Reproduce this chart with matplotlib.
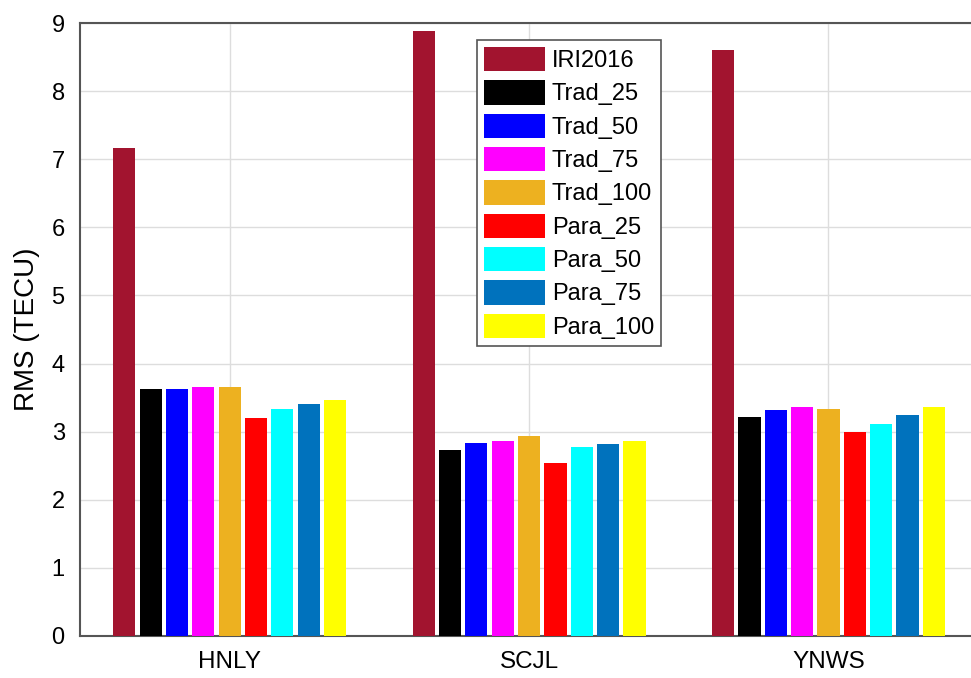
import numpy as np
import matplotlib.pyplot as plt

plt.rcParams['font.family'] = ['Liberation Sans', 'DejaVu Sans']

stations = ['HNLY', 'SCJL', 'YNWS']
models = ['IRI2016', 'Trad_25', 'Trad_50', 'Trad_75', 'Trad_100',
          'Para_25', 'Para_50', 'Para_75', 'Para_100']
colors = ['#A2142F', '#000000', '#0000FF', '#FF00FF', '#EDB120',
          '#FF0000', '#00FFFF', '#0072BD', '#FFFF00']

# RMS per model, one entry per station
rms = {
    'IRI2016':  [7.16, 8.88, 8.60],
    'Trad_25':  [3.62, 2.73, 3.22],
    'Trad_50':  [3.62, 2.84, 3.32],
    'Trad_75':  [3.65, 2.87, 3.36],
    'Trad_100': [3.65, 2.94, 3.34],
    'Para_25':  [3.20, 2.54, 2.99],
    'Para_50':  [3.33, 2.78, 3.11],
    'Para_75':  [3.41, 2.82, 3.25],
    'Para_100': [3.46, 2.87, 3.36],
}

fig = plt.figure(figsize=(9.71, 6.78), dpi=100)
ax = fig.add_axes([0.0824, 0.062, 0.925, 0.904])

x = np.arange(1, len(stations) + 1)
n = len(models)
slot = 0.088
for i, m in enumerate(models):
    off = (i - (n - 1) / 2) * slot
    ax.bar(x + off, rms[m], width=0.074, color=colors[i],
           label=m, zorder=3)

ax.set_xlim(0.5, 3.5)
ax.set_ylim(0, 9)
ax.set_xticks(x)
ax.set_xticklabels(stations, fontsize=17.5)
ax.set_yticks(range(10))
ax.tick_params(axis='y', labelsize=17, length=0, pad=11)
ax.tick_params(axis='x', length=0, pad=11)
ax.set_ylabel('RMS (TECU)', fontsize=20, labelpad=8)
ax.grid(True, color='#DDDDDD', linewidth=1, zorder=0)
for s in ax.spines.values():
    s.set_color('#555555')
    s.set_linewidth(1.5)

leg = ax.legend(loc='upper left', bbox_to_anchor=(0.491, 0.941),
                bbox_transform=fig.transFigure, fontsize=17,
                handlelength=2.58, handleheight=1.2, labelspacing=0.35,
                handletextpad=0.3, borderpad=0.3, borderaxespad=0,
                fancybox=False, framealpha=1)
leg.get_frame().set_edgecolor('#555555')
leg.get_frame().set_linewidth(1.2)

fig.savefig('out.png', dpi=100)
